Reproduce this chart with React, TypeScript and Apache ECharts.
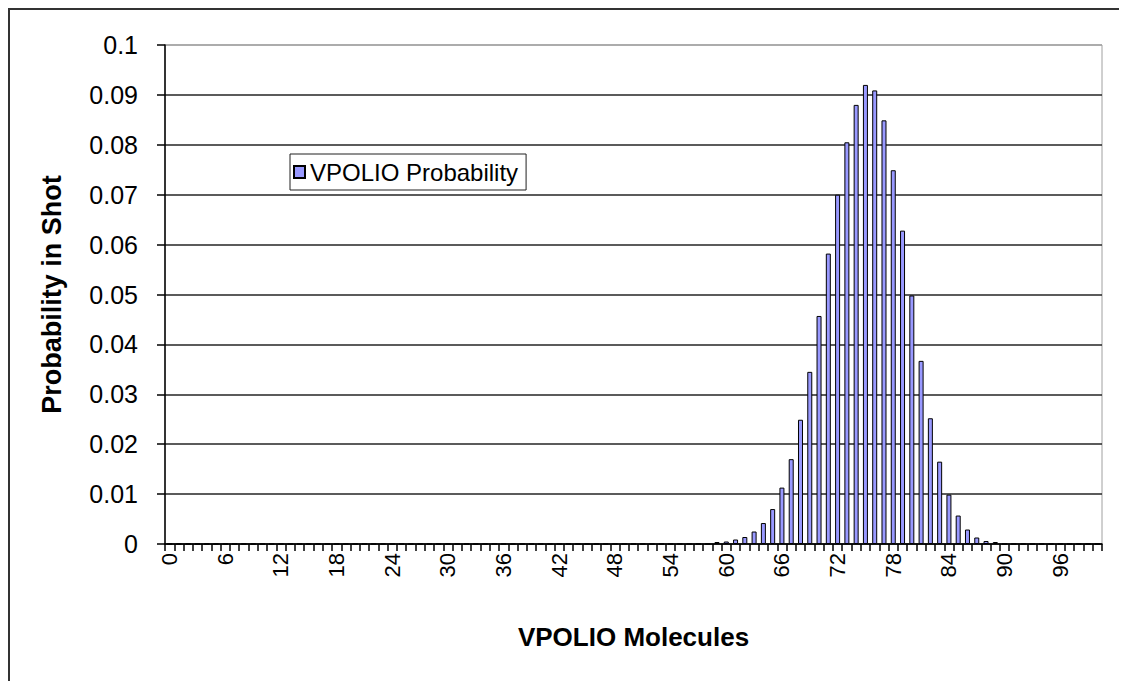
import React, { useEffect, useRef } from "react";
import * as echarts from "echarts";

// VPOLIO molecule counts 0..100
const molecules: string[] = Array.from({ length: 101 }, (_, i) => String(i));

// Probability for each molecule count (index = molecule count)
const probabilities: number[] = [
  // 0-9
  0, 0, 0, 0, 0, 0, 0, 0, 0, 0,
  // 10-19
  0, 0, 0, 0, 0, 0, 0, 0, 0, 0,
  // 20-29
  0, 0, 0, 0, 0, 0, 0, 0, 0, 0,
  // 30-39
  0, 0, 0, 0, 0, 0, 0, 0, 0, 0,
  // 40-49
  0, 0, 0, 0, 0, 0, 0, 0, 0, 0,
  // 50-59
  0, 0, 0, 0, 0, 0, 0, 0, 0, 0.0004,
  // 60-69
  0.0005, 0.0009, 0.0014, 0.0025, 0.0042, 0.007, 0.0113, 0.017, 0.0249, 0.0345,
  // 70-79
  0.0457, 0.0582, 0.07, 0.0805, 0.088, 0.092, 0.0909, 0.0849, 0.0749, 0.0628,
  // 80-89
  0.0498, 0.0367, 0.0252, 0.0165, 0.0099, 0.0057, 0.0029, 0.0013, 0.0006, 0.0004,
  // 90-100
  0, 0, 0, 0, 0, 0, 0, 0, 0, 0, 0,
];

const seriesName = "VPOLIO Probability";
const xTitle = "VPOLIO Molecules";
const yTitle = "Probability in Shot";

const FONT = "'Liberation Sans', Arial, sans-serif";

export default function App() {
  const ref = useRef<HTMLDivElement>(null);

  useEffect(() => {
    if (!ref.current) return;
    document.body.style.overflow = "hidden";
    document.documentElement.style.overflow = "hidden";
    const chart = echarts.init(ref.current, undefined, { renderer: "svg" });
    const splitColors = Array.from({ length: 11 }, (_, i) => (i === 10 ? "#a0a0a0" : "#252525"));
    chart.setOption({
      animation: false,
      backgroundColor: "#ffffff",
      textStyle: { fontFamily: FONT },
      grid: {
        left: 155,
        top: 35,
        width: 937,
        height: 499,
        show: true,
        borderColor: "#a0a0a0",
        borderWidth: 1,
        backgroundColor: "transparent",
      },
      legend: {
        show: true,
        left: 280,
        top: 144,
        orient: "horizontal",
        padding: [6, 8, 6, 3],
        borderColor: "#202020",
        borderWidth: 1,
        backgroundColor: "#ffffff",
        itemWidth: 11,
        itemHeight: 12,
        icon: "rect",
        textStyle: { fontFamily: FONT, fontSize: 24, color: "#000" },
        data: [seriesName],
      },
      xAxis: {
        type: "category",
        data: molecules,
        boundaryGap: true,
        name: xTitle,
        nameLocation: "middle",
        nameGap: 80,
        nameTextStyle: { fontFamily: FONT, fontSize: 26, fontWeight: "bold", color: "#000" },
        axisLine: { show: true, lineStyle: { color: "#000", width: 1.5 } },
        axisTick: { show: true, interval: 0, length: 7, lineStyle: { color: "#000", width: 1.5 } },
        axisLabel: {
          interval: 5,
          rotate: 90,
          margin: 9,
          fontFamily: FONT,
          fontSize: 22,
          color: "#000",
        },
        splitLine: { show: false },
      },
      yAxis: {
        type: "value",
        min: 0,
        max: 0.1,
        interval: 0.01,
        name: yTitle,
        nameLocation: "middle",
        nameGap: 100,
        nameRotate: 90,
        nameTextStyle: { fontFamily: FONT, fontSize: 27, fontWeight: "bold", color: "#000" },
        axisLine: { show: true, lineStyle: { color: "#000", width: 1.5 } },
        axisTick: { show: true, length: 8, lineStyle: { color: "#000", width: 1.5 } },
        axisLabel: {
          margin: 27,
          fontFamily: FONT,
          fontSize: 25,
          color: "#000",
          formatter: (v: number) => String(+v.toFixed(2)),
        },
        splitLine: { show: true, lineStyle: { color: splitColors, width: 1.6 } },
      },
      series: [
        {
          name: seriesName,
          type: "bar",
          data: probabilities,
          barWidth: 5,
          itemStyle: { color: "#9999ff", borderColor: "#000", borderWidth: 1 },
        },
      ],
    });
    return () => chart.dispose();
  }, []);

  return (
    <div
      style={{
        width: 1111,
        height: 673,
        boxSizing: "border-box",
        borderLeft: "2px solid #333",
        borderTop: "2px solid #333",
        overflow: "hidden",
      }}
    >
      <div ref={ref} style={{ width: 1109, height: 671 }} />
    </div>
  );
}
